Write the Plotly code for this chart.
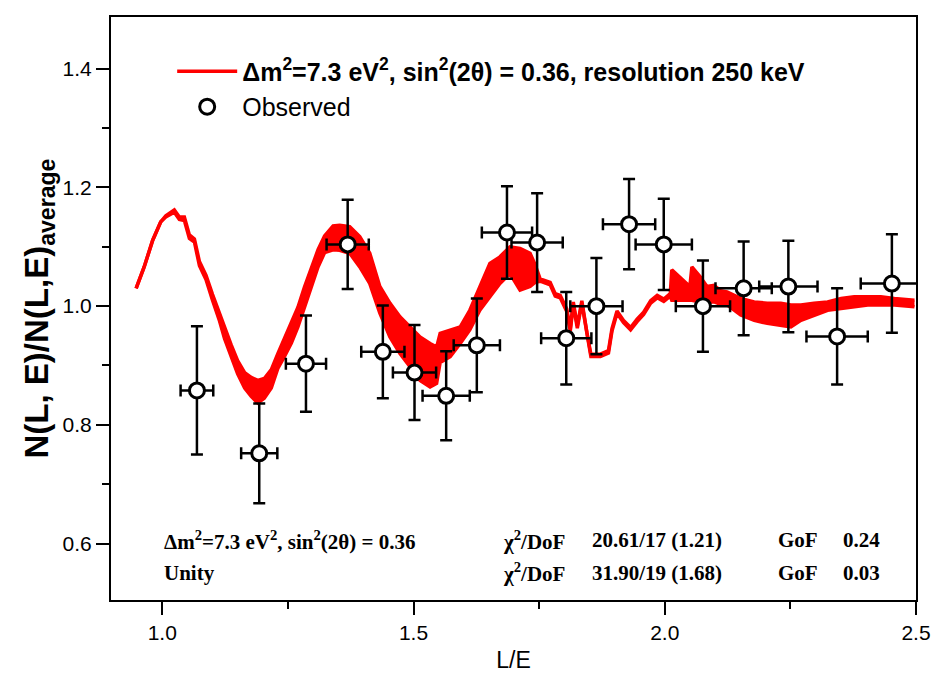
import plotly.graph_objects as go

# ---- model curve (red band: upper / lower envelope) ----
curve_x = [0.948, 0.964, 0.981, 0.997, 1.007, 1.024, 1.034, 1.044, 1.054, 1.064,
           1.074, 1.087, 1.100, 1.114, 1.124, 1.137, 1.150, 1.164, 1.177, 1.190,
           1.203, 1.217, 1.230, 1.243, 1.257, 1.270, 1.283, 1.297, 1.310, 1.323,
           1.340, 1.353, 1.373, 1.393, 1.413, 1.433, 1.453, 1.473, 1.493, 1.513,
           1.533, 1.546, 1.553, 1.573, 1.593, 1.612, 1.632, 1.652, 1.672, 1.692,
           1.712, 1.732, 1.742, 1.752, 1.772, 1.782, 1.792, 1.805, 1.812, 1.818,
           1.826, 1.835, 1.845, 1.853, 1.872, 1.888, 1.895, 1.905, 1.918, 1.932,
           1.945, 1.958, 1.972, 1.985, 1.998, 2.011, 2.014, 2.050, 2.054, 2.071,
           2.084, 2.098, 2.111, 2.124, 2.151, 2.178, 2.204, 2.231, 2.251, 2.271,
           2.297, 2.324, 2.351, 2.377, 2.404, 2.430, 2.457, 2.497]
curve_hi = [1.030, 1.066, 1.111, 1.142, 1.152, 1.162, 1.150, 1.150, 1.120, 1.113,
            1.075, 1.052, 1.020, 0.988, 0.962, 0.935, 0.908, 0.888, 0.880, 0.875,
            0.878, 0.893, 0.920, 0.945, 0.970, 0.998, 1.032, 1.065, 1.095, 1.118,
            1.135, 1.136, 1.134, 1.117, 1.089, 1.033, 1.005, 0.982, 0.965, 0.948,
            0.937, 0.931, 0.954, 0.960, 0.965, 0.993, 1.033, 1.072, 1.083, 1.100,
            1.097, 1.089, 1.070, 1.046, 1.040, 1.021, 1.018, 0.995, 0.962, 1.007,
            0.967, 1.009, 0.956, 0.919, 0.919, 0.925, 0.962, 0.992, 0.976, 0.964,
            0.978, 0.990, 1.009, 1.018, 1.012, 1.021, 1.061, 1.033, 1.066, 1.049,
            1.033, 1.035, 1.026, 1.024, 1.013, 1.007, 1.005, 1.005, 1.002, 1.002,
            1.005, 1.007, 1.013, 1.016, 1.016, 1.016, 1.013, 1.010]
curve_lo = [1.030, 1.066, 1.111, 1.142, 1.150, 1.158, 1.146, 1.144, 1.114, 1.108,
            1.068, 1.045, 1.010, 0.975, 0.945, 0.915, 0.886, 0.862, 0.848, 0.837,
            0.845, 0.862, 0.895, 0.915, 0.938, 0.965, 1.000, 1.033, 1.066, 1.090,
            1.095, 1.094, 1.089, 1.066, 1.038, 0.988, 0.948, 0.920, 0.898, 0.875,
            0.864, 0.870, 0.905, 0.915, 0.937, 0.960, 0.993, 1.016, 1.038, 1.055,
            1.027, 1.033, 1.040, 1.042, 1.036, 1.017, 1.014, 0.991, 0.958, 1.003,
            0.963, 1.005, 0.952, 0.915, 0.915, 0.921, 0.958, 0.988, 0.972, 0.960,
            0.974, 0.986, 1.005, 1.014, 1.008, 1.017, 1.010, 1.010, 1.010, 1.007,
            1.007, 1.007, 1.003, 1.002, 0.985, 0.976, 0.971, 0.968, 0.965, 0.976,
            0.985, 0.993, 0.996, 0.999, 1.002, 1.002, 1.002, 0.999]

# ---- observed points ----
obs_x = [1.069, 1.193, 1.286, 1.369, 1.439, 1.502, 1.565, 1.626, 1.686, 1.746,
         1.804, 1.864, 1.929, 1.998, 2.076, 2.157, 2.246, 2.343, 2.452]
obs_y = [0.858, 0.752, 0.903, 1.104, 0.923, 0.888, 0.849, 0.934, 1.124, 1.107,
         0.946, 1.000, 1.138, 1.104, 1.000, 1.030, 1.033, 0.949, 1.038]
obs_ey = [0.108, 0.084, 0.081, 0.075, 0.078, 0.080, 0.075, 0.079, 0.078, 0.083,
          0.078, 0.081, 0.076, 0.077, 0.077, 0.079, 0.077, 0.081, 0.083]
obs_ex = [0.0325, 0.036, 0.040, 0.042, 0.043, 0.043, 0.047, 0.046, 0.050, 0.051,
          0.050, 0.052, 0.052, 0.056, 0.054, 0.056, 0.058, 0.061, 0.062]

x_ticks = [1.0, 1.5, 2.0, 2.5]
y_ticks = [0.6, 0.8, 1.0, 1.2, 1.4]

fit_labels = ["Δm<sup>2</sup>=7.3 eV<sup>2</sup>, sin<sup>2</sup>(2θ) = 0.36", "Unity"]
fit_chi2 = ["20.61/17 (1.21)", "31.90/19 (1.68)"]
fit_gof = ["0.24", "0.03"]
row_y = [0.606, 0.551]

RED = "#ff0000"
SANS = "Arial, Liberation Sans, sans-serif"
SERIF = "Times New Roman, Liberation Serif, serif"

fig = go.Figure()
fig.add_trace(go.Scatter(
    x=curve_x, y=curve_lo, mode="lines",
    line=dict(color=RED, width=3.5),
    name="<b>Δm<sup>2</sup>=7.3 eV<sup>2</sup>, sin<sup>2</sup>(2θ) = 0.36, resolution 250 keV</b>",
    showlegend=True))
fig.add_trace(go.Scatter(
    x=curve_x, y=curve_hi, mode="lines",
    line=dict(color=RED, width=3.5), fill="tonexty", fillcolor=RED,
    showlegend=False, hoverinfo="skip"))
fig.add_trace(go.Scatter(
    x=obs_x, y=obs_y, mode="markers", name="Observed",
    marker=dict(symbol="circle", size=15, color="white",
                line=dict(color="black", width=3)),
    error_y=dict(type="data", array=obs_ey, color="black", thickness=2.5, width=6),
    error_x=dict(type="data", array=obs_ex, color="black", thickness=2.5, width=6),
))

for label, chi, gof, yy in zip(fit_labels, fit_chi2, fit_gof, row_y):
    for xx, txt in [(1.0, label), (1.674, "χ<sup>2</sup>/DoF"), (1.852, chi),
                    (2.221, "GoF"), (2.351, gof)]:
        fig.add_annotation(x=xx, y=yy, xref="x", yref="y", text="<b>" + txt + "</b>",
                           showarrow=False, xanchor="left", yanchor="middle",
                           font=dict(family=SERIF, size=21, color="black"))

axis_common = dict(showline=True, linecolor="black", linewidth=2, mirror=True,
                   ticks="outside", ticklen=13, tickwidth=2, tickcolor="black",
                   showgrid=False, zeroline=False, automargin=False,
                   tickfont=dict(family=SANS, size=21, color="black"))

fig.update_xaxes(range=[0.898, 2.5], tickvals=x_ticks,
                 ticktext=[f"{v:.1f}" for v in x_ticks],
                 minor=dict(ticks="outside", ticklen=7, tickwidth=2, tickcolor="black",
                            dtick=0.25, tick0=1.0),
                 title=dict(text="L/E", font=dict(family=SANS, size=23, color="black"),
                            standoff=9),
                 **axis_common)
fig.update_yaxes(range=[0.505, 1.487], tickvals=y_ticks,
                 ticktext=[f"{v:.1f}" for v in y_ticks],
                 minor=dict(ticks="outside", ticklen=7, tickwidth=2, tickcolor="black",
                            dtick=0.1, tick0=0.5),
                 title=dict(text="<b>N(L, E)/N(L,E)<sub>average</sub></b>",
                            font=dict(family=SANS, size=33, color="black"),
                            standoff=4),
                 **axis_common)

fig.update_layout(
    width=933, height=691,
    margin=dict(l=111, r=17, t=17, b=91),
    paper_bgcolor="white", plot_bgcolor="white",
    font=dict(family=SANS, color="black"),
    legend=dict(x=0.076, y=0.946, xanchor="left", yanchor="top", traceorder="normal",
                bgcolor="rgba(0,0,0,0)", font=dict(family=SANS, size=25, color="black"),
                itemwidth=60, tracegroupgap=0),
)

fig.write_html("out.html", config={"displayModeBar": False},
               post_script="document.body.style.margin='0px';")
